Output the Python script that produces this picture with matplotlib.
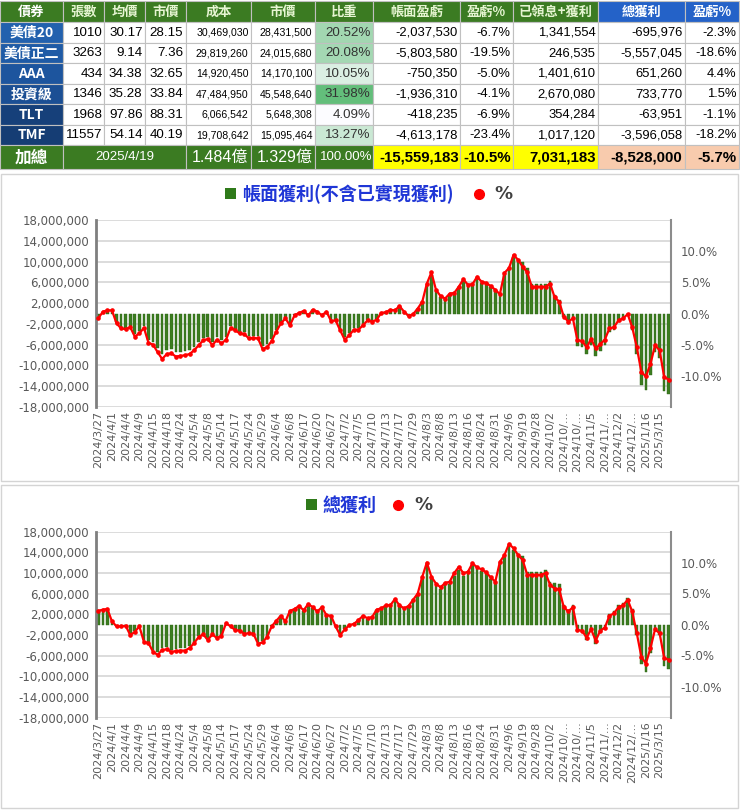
import numpy as np
import matplotlib
matplotlib.use("Agg")
import matplotlib.pyplot as plt
import matplotlib.colors as mcolors
from matplotlib.patches import Rectangle
from matplotlib.ticker import FuncFormatter

plt.rcParams['font.family'] = ['Liberation Sans', 'Noto Sans CJK TC', 'DejaVu Sans']
CJK = ['Noto Sans CJK TC', 'DejaVu Sans']

# ---- table data ----
headers = ['債券', '張數', '均價', '市價', '成本', '市價', '比重',
           '帳面盈虧', '盈虧%', '已領息+獲利', '總獲利', '盈虧%']
names = ['美債20', '美債正二', 'AAA', '投資級', 'TLT', 'TMF']
shares = [1010, 3263, 434, 1346, 1968, 11557]
avg_price = [30.17, 9.14, 34.38, 35.28, 97.86, 54.14]
price = [28.15, 7.36, 32.65, 33.84, 88.31, 40.19]
cost = [30469030, 29819260, 14920450, 47484950, 6066542, 19708642]
mkt_value = [28431500, 24015680, 14170100, 45548640, 5648308, 15095464]
weight = [20.52, 20.08, 10.05, 31.98, 4.09, 13.27]
book_pl = [-2037530, -5803580, -750350, -1936310, -418235, -4613178]
book_pct = [-6.7, -19.5, -5.0, -4.1, -6.9, -23.4]
realized = [1341554, 246535, 1401610, 2670080, 354284, 1017120]
total_pl = [-695976, -5557045, 651260, 733770, -63951, -3596058]
total_pct = [-2.3, -18.6, 4.4, 1.5, -1.1, -18.2]
sum_date = '2025/4/19'
sum_cost = '1.484億'
sum_value = '1.329億'
sum_weight = '100.00%'
sum_book_pl = -15559183
sum_book_pct = -10.5
sum_realized = 7031183
sum_total_pl = -8528000
sum_total_pct = -5.7

# ---- chart data ----
tick_labels = ['2024/3/27', '2024/4/1', '2024/4/4', '2024/4/9', '2024/4/15', '2024/4/18',
               '2024/4/24', '2024/5/4', '2024/5/8', '2024/5/14', '2024/5/17', '2024/5/24',
               '2024/5/29', '2024/6/4', '2024/6/8', '2024/6/17', '2024/6/20', '2024/6/27',
               '2024/7/2', '2024/7/5', '2024/7/10', '2024/7/13', '2024/7/17', '2024/7/29',
               '2024/8/3', '2024/8/8', '2024/8/13', '2024/8/16', '2024/8/24', '2024/8/31',
               '2024/9/6', '2024/9/19', '2024/9/28', '2024/10/2', '2024/10/...', '2024/10/...',
               '2024/11/5', '2024/11/...', '2024/12/2', '2024/12/...', '2025/1/16', '2025/3/15']

# 帳面獲利 (millions) and %
book_bars = [-0.86, 0.32, 0.54, 0.54, -1.73, -2.59, -2.70, -2.38, -4.00, -3.46,
             -2.48, -5.08, -5.40, -6.70, -7.88, -7.02, -6.91, -7.45, -7.34, -7.24,
             -7.02, -6.37, -5.51, -4.64, -4.43, -5.51, -4.54, -5.18, -4.54, -2.48,
             -2.92, -3.52, -3.63, -4.40, -4.29, -4.40, -6.27, -5.94, -4.84, -3.19,
             -1.76, -0.88, -2.09, -0.33, 0.11, 0.44, -0.33, 0.66, 0.33, -0.33,
             0.33, -1.32, -1.21, -2.97, -4.62, -3.85, -2.86, -2.86, -2.09, -1.21,
             -1.43, -1.13, 0.11, 0.23, 0.68, 0.57, 1.36, 0.34, -0.45, -0.11,
             0.90, 2.15, 5.42, 7.46, 4.29, 3.16, 2.71, 3.62, 3.73, 4.86,
             6.22, 5.34, 5.45, 6.84, 5.92, 5.68, 5.10, 4.41, 3.60, 7.54,
             8.47, 10.90, 9.98, 9.90, 8.71, 5.68, 5.68, 5.68, 5.68, 6.34,
             3.59, 2.62, -0.69, -1.79, -1.10, -6.28, -6.42, -7.88, -5.99, -8.18,
             -7.15, -6.13, -3.50, -3.21, -1.61, -1.17, -0.15, -3.21, -7.88, -13.72,
             -14.75, -11.83, -7.45, -8.61, -14.89, -15.56]
book_pcts = [-0.8, 0.3, 0.5, 0.5, -1.6, -2.4, -2.5, -2.2, -3.7, -3.2,
             -2.3, -4.7, -5.0, -6.2, -7.3, -6.5, -6.4, -6.9, -6.8, -6.7,
             -6.5, -5.9, -5.1, -4.3, -4.1, -5.1, -4.2, -4.8, -4.2, -2.3,
             -2.7, -3.2, -3.3, -4.0, -3.9, -4.0, -5.7, -5.4, -4.4, -2.9,
             -1.6, -0.8, -1.9, -0.3, 0.1, 0.4, -0.3, 0.6, 0.3, -0.3,
             0.3, -1.2, -1.1, -2.7, -4.2, -3.5, -2.6, -2.6, -1.9, -1.1,
             -1.3, -1.0, 0.1, 0.2, 0.6, 0.5, 1.2, 0.3, -0.4, -0.1,
             0.8, 1.9, 4.8, 6.6, 3.8, 2.8, 2.4, 3.2, 3.3, 4.3,
             5.5, 4.6, 4.7, 5.9, 5.1, 4.9, 4.4, 3.8, 3.1, 6.5,
             7.3, 9.4, 8.6, 7.5, 6.6, 4.3, 4.3, 4.3, 4.3, 4.8,
             2.6, 1.9, -0.5, -1.3, -0.8, -4.3, -4.4, -5.4, -4.1, -5.6,
             -4.9, -4.2, -2.4, -2.2, -1.1, -0.8, -0.1, -2.2, -5.4, -9.4,
             -10.1, -8.1, -5.1, -5.9, -10.2, -10.6]

# 總獲利 (millions) and %
total_bars = [2.42, 2.64, 2.75, 0.55, -0.33, -0.33, -0.22, -1.87, -1.32, -0.33,
              -3.08, -3.30, -4.84, -5.39, -4.51, -4.40, -4.84, -4.73, -4.62, -4.62,
              -4.18, -3.30, -2.20, -1.76, -2.75, -1.76, -2.42, -1.98, 0.22, -0.33,
              -0.99, -1.12, -1.68, -1.57, -1.68, -3.47, -3.25, -2.24, -0.34, 0.67,
              1.57, 0.56, 2.46, 2.80, 3.36, 2.58, 3.70, 3.14, 2.35, 3.14,
              1.68, 1.57, -0.34, -1.90, -0.90, -0.11, 0.11, 0.78, 1.57, 1.12,
              1.34, 2.74, 2.96, 3.53, 3.53, 4.67, 3.53, 2.96, 3.42, 4.56,
              5.70, 8.78, 11.40, 8.78, 7.52, 6.84, 7.64, 7.87, 9.46, 10.60,
              9.46, 9.95, 11.58, 10.76, 10.41, 9.83, 8.89, 8.07, 11.82, 13.10,
              15.21, 14.39, 13.10, 13.31, 10.24, 10.24, 10.24, 10.24, 10.62, 8.19,
              8.00, 7.87, 3.86, 2.90, 3.86, -1.32, -1.47, -3.09, -1.18, -3.82,
              -1.47, -0.74, 2.06, 2.65, 3.80, 4.20, 5.20, 3.09, -2.06, -7.64,
              -9.26, -5.59, -1.18, -2.06, -7.94, -8.53]
total_pcts = [2.2, 2.4, 2.5, 0.5, -0.3, -0.3, -0.2, -1.7, -1.2, -0.3,
              -2.8, -3.0, -4.4, -4.9, -4.1, -4.0, -4.4, -4.3, -4.2, -4.2,
              -3.8, -3.0, -2.0, -1.6, -2.5, -1.6, -2.2, -1.8, 0.2, -0.3,
              -0.9, -1.0, -1.5, -1.4, -1.5, -3.1, -2.9, -2.0, -0.3, 0.6,
              1.4, 0.5, 2.2, 2.5, 3.0, 2.3, 3.3, 2.8, 2.1, 2.8,
              1.5, 1.4, -0.3, -1.7, -0.8, -0.1, 0.1, 0.7, 1.4, 1.0,
              1.2, 2.4, 2.6, 3.1, 3.1, 4.1, 3.1, 2.6, 3.0, 4.0,
              5.0, 7.7, 10.0, 7.7, 6.6, 6.0, 6.7, 6.9, 8.3, 9.3,
              8.3, 8.5, 9.9, 9.2, 8.9, 8.4, 7.6, 6.9, 10.1, 11.2,
              13.0, 12.3, 11.2, 10.4, 8.0, 8.0, 8.0, 8.0, 8.3, 6.4,
              5.8, 5.7, 2.8, 2.1, 2.8, -0.9, -1.0, -2.1, -0.8, -2.6,
              -1.0, -0.5, 1.4, 1.8, 2.8, 3.1, 4.0, 2.1, -1.4, -5.2,
              -6.3, -3.8, -0.8, -1.4, -5.4, -5.7]

W, H = 740, 810
fig = plt.figure(figsize=(W / 100, H / 100), dpi=100)
bg = fig.add_axes([0, 0, 1, 1])
bg.set_xlim(0, W)
bg.set_ylim(H, 0)
bg.axis('off')

GREEN = '#3b7b22'
BLUE_HEAD = '#2462c8'
GRID = '#c0c0c0'


def cell(x0, x1, y0, y1, fc, text='', color='black', size=9.6, weight='normal',
         ha='right', family=None, pad=2.5):
    bg.add_patch(Rectangle((x0, y0), x1 - x0, y1 - y0, facecolor=fc,
                           edgecolor=GRID, linewidth=0.8))
    if text == '':
        return
    if ha == 'right':
        tx = x1 - pad
    elif ha == 'left':
        tx = x0 + pad
    else:
        tx = (x0 + x1) / 2
    kw = {}
    if family is not None:
        kw['family'] = family
    bg.text(tx, (y0 + y1) / 2 + 0.5, text, ha=ha, va='center', color=color,
            fontsize=size, fontweight=weight, **kw)


col_x = [0, 63, 104, 145, 186, 251, 315, 373, 460, 513, 598, 685, 739]
head_y0, head_y1 = 1, 22
row_h = 20.5
tot_y0, tot_y1 = 145, 169

# header row
for k, h in enumerate(headers):
    fc = BLUE_HEAD if k >= 10 else GREEN
    tc = 'white' if k in (0, 10, 11) else '#e6f5d2'
    cell(col_x[k], col_x[k + 1], head_y0, head_y1, fc, h, tc, 9.5, 'bold', 'center', CJK)

label_colors = ['#2261ae', '#1f5ba6', '#1d559e', '#1b4f94', '#16407a', '#153d74']
w_lo, w_hi = min(weight), max(weight)
white_rgb = np.array(mcolors.to_rgb('#fcfcff'))
green_rgb = np.array(mcolors.to_rgb('#63be7b'))

for r in range(6):
    y0 = 22 + row_h * r
    y1 = y0 + row_h
    cell(col_x[0], col_x[1], y0, y1, label_colors[r], names[r], 'white', 10, 'bold', 'center', CJK)
    cell(col_x[1], col_x[2], y0, y1, 'white', str(shares[r]), pad=1.5)
    cell(col_x[2], col_x[3], y0, y1, 'white', f'{avg_price[r]:.2f}')
    cell(col_x[3], col_x[4], y0, y1, 'white', f'{price[r]:.2f}')
    cell(col_x[4], col_x[5], y0, y1, 'white', f'{cost[r]:,}', size=7.6)
    cell(col_x[5], col_x[6], y0, y1, 'white', f'{mkt_value[r]:,}', size=7.6)
    t = (weight[r] - w_lo) / (w_hi - w_lo)
    wc = white_rgb + t * (green_rgb - white_rgb)
    cell(col_x[6], col_x[7], y0, y1, wc, f'{weight[r]:.2f}%', '#333333')
    cell(col_x[7], col_x[8], y0, y1, 'white', f'{book_pl[r]:,}', size=9.4)
    cell(col_x[8], col_x[9], y0, y1, 'white', f'{book_pct[r]:.1f}%', size=9.4)
    cell(col_x[9], col_x[10], y0, y1, 'white', f'{realized[r]:,}', size=9.4)
    cell(col_x[10], col_x[11], y0, y1, 'white', f'{total_pl[r]:,}', size=9.4)
    cell(col_x[11], col_x[12], y0, y1, 'white', f'{total_pct[r]:.1f}%', size=9.4)

# total row
cell(col_x[0], col_x[1], tot_y0, tot_y1, GREEN, '加總', 'white', 12, 'bold', 'center', CJK)
cell(col_x[1], col_x[4], tot_y0, tot_y1, GREEN, sum_date, 'white', 9.5, 'normal', 'center')
cell(col_x[4], col_x[5], tot_y0, tot_y1, GREEN, sum_cost, 'white', 11.5, 'normal', 'right',
     ['Liberation Sans', 'Noto Sans CJK TC'])
cell(col_x[5], col_x[6], tot_y0, tot_y1, GREEN, sum_value, 'white', 11.5, 'normal', 'right',
     ['Liberation Sans', 'Noto Sans CJK TC'])
cell(col_x[6], col_x[7], tot_y0, tot_y1, GREEN, sum_weight, 'white', 9.5, 'normal', 'right', pad=1)
cell(col_x[7], col_x[8], tot_y0, tot_y1, '#ffff00', f'{sum_book_pl:,}', 'black', 10.8, 'bold', pad=1)
cell(col_x[8], col_x[9], tot_y0, tot_y1, '#ffff00', f'{sum_book_pct:.1f}%', 'black', 10.8, 'bold', pad=2)
cell(col_x[9], col_x[10], tot_y0, tot_y1, '#ffff00', f'{sum_realized:,}', 'black', 10.8, 'bold')
cell(col_x[10], col_x[11], tot_y0, tot_y1, '#f8cbad', f'{sum_total_pl:,}', 'black', 10.8, 'bold')
cell(col_x[11], col_x[12], tot_y0, tot_y1, '#f8cbad', f'{sum_total_pct:.1f}%', 'black', 10.8, 'bold')

# chart panels
bg.add_patch(Rectangle((0.5, 174), 737, 307, facecolor='none', edgecolor='#d4d4d4', lw=1))
bg.add_patch(Rectangle((0.5, 485), 737, 323, facecolor='none', edgecolor='#d4d4d4', lw=1))


def chart_title(y, x_sq, text, x_dot, x_pct):
    bg.add_patch(Rectangle((x_sq, y - 6), 11, 11, facecolor='#2f7a1a', edgecolor='none'))
    bg.text(x_sq + 17, y, text, ha='left', va='center', fontsize=13, fontweight='bold',
            color='#1f36d6', family=CJK)
    bg.plot([x_dot], [y], 'o', color='#ff0000', ms=7)
    bg.text(x_pct, y, '%', ha='left', va='center', fontsize=13, fontweight='bold',
            color='#404040', family='DejaVu Sans')


chart_title(194, 225, '帳面獲利(不含已實現獲利)', 479, 494)
chart_title(505, 306, '總獲利', 398, 414)


def draw_chart(top, bottom, bars, pcts):
    ax = fig.add_axes([96 / W, 1 - bottom / H, 575 / W, (bottom - top) / H])
    x = np.arange(len(bars))
    ax.bar(x, np.array(bars) * 1e6, width=0.58, color='#3c7d1f', edgecolor='#2d6416',
           linewidth=0.3, zorder=2)
    ax.set_xlim(-0.5, len(bars) - 0.5)
    ax.set_ylim(-18e6, 18e6)
    ax.set_yticks(np.arange(-18e6, 18e6 + 1, 4e6))
    ax.yaxis.set_major_formatter(FuncFormatter(lambda v, p: f'{int(round(v)):,}'))
    ax.grid(axis='y', color='#d9d9d9', lw=1.3, zorder=0)
    ax.set_axisbelow(True)
    ax.set_xticks(x[::3])
    ax.set_xticklabels(tick_labels, rotation=90, fontsize=8, color='#595959',
                       family='DejaVu Sans')
    ax.tick_params(axis='x', length=0, pad=3)
    ax.tick_params(axis='y', length=0, pad=5, labelsize=8.5, labelcolor='#595959')
    for lab in ax.get_yticklabels():
        lab.set_family('DejaVu Sans')
    for s in ('top', 'bottom', 'right'):
        ax.spines[s].set_visible(False)
    ax.spines['left'].set_color('#7f7f7f')
    ax.spines['left'].set_linewidth(2)

    ax2 = ax.twinx()
    ax2.plot(x, pcts, color='#ff0000', lw=1.6, marker='o', ms=2.3, zorder=3)
    ax2.set_ylim(-15, 15)
    ax2.set_yticks([-10, -5, 0, 5, 10])
    ax2.set_yticklabels([f'{v:.1f}%' for v in [-10, -5, 0, 5, 10]], family='DejaVu Sans')
    ax2.tick_params(axis='y', length=0, pad=7, labelsize=8.5, labelcolor='#595959')
    for s in ('top', 'bottom', 'left'):
        ax2.spines[s].set_visible(False)
    ax2.spines['right'].set_color('#8c8c8c')
    ax2.spines['right'].set_linewidth(1.5)
    return ax, ax2


draw_chart(220, 407, book_bars, book_pcts)
draw_chart(531.5, 717.5, total_bars, total_pcts)

fig.savefig('out.png', dpi=100)
